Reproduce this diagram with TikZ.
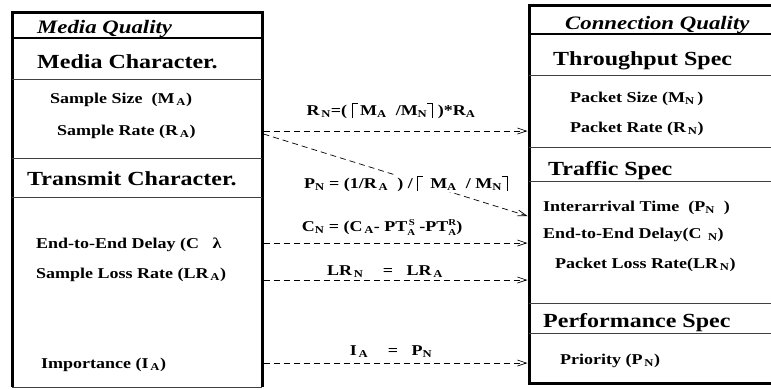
\documentclass[tikz,border=0pt]{standalone}
\usepackage{fontspec}
\setmainfont{Liberation Serif}[FakeStretch=1.2]
\usetikzlibrary{arrows.meta}

\newcommand\sub[1]{\textsubscript{#1}}
\newcommand\subsup[2]{\rlap{\raisebox{-4pt}{\fontsize{9}{9}\selectfont #1}}\raisebox{6pt}{\fontsize{9}{9}\selectfont #2}}
\newcommand\lceilbar{\rule[-3pt]{1pt}{15pt}\rule[11pt]{5pt}{1pt}}
\newcommand\rceilbar{\rule[11pt]{5pt}{1pt}\rule[-3pt]{1pt}{15pt}}

\tikzset{
  every node/.style={inner sep=0pt, anchor=base west},
  title/.style={font=\fontsize{19}{22}\selectfont\bfseries\itshape},
  head/.style={font=\fontsize{20}{24}\selectfont\bfseries},
  item/.style={font=\fontsize{15}{18}\selectfont\bfseries},
  formula/.style={font=\fontsize{15}{18}\selectfont\bfseries, anchor=base, fill=white, inner sep=1pt},
  link/.style={dash pattern=on 6pt off 4pt, line width=0.7pt, -{Straight Barb[length=9pt,width=6pt]}},
  frame/.style={line width=3pt},
  rule/.style={line width=0.8pt, black!75},
}

\begin{document}
\begin{tikzpicture}[x=1pt,y=-1pt]
\useasboundingbox (0,0) rectangle (771,389);

% media quality box
\draw[rule] (12,387) -- (262,387);
\draw[frame] (12,387) -- (12,12) -- (262,12) -- (262,387);
\draw[line width=2.5pt] (12,38) -- (262,38);
\draw[rule] (12,79) -- (262,79);
\draw[rule] (12,158) -- (262,158);
\draw[rule] (12,197) -- (262,197);

\node[title] (mq) at (37,33) {Media Quality};
\node[head] (mchar) at (37,68) {Media Character.};
\node[item] (msize) at (50,103) {Sample Size \ (M\sub{\,A})};
\node[item] (mrate) at (57,135) {Sample Rate (R\sub{\,A})};
\node[head] (tchar) at (27,185) {Transmit Character.};
\node[item] (mdelay) at (36,248) {End-to-End Delay (C \ \ λ};
\node[item] (mloss) at (36,278) {Sample Loss Rate (LR\sub{\,A})};
\node[item] (mimp) at (41,368) {Importance (I\sub{\,A})};

% connection quality box
\draw[frame] (780,5) -- (529,5) -- (529,383) -- (780,383);
\draw[line width=2pt] (529,34) -- (780,34);
\draw[rule] (529,75) -- (780,75);
\draw[rule] (529,147) -- (780,147);
\draw[rule] (529,181) -- (780,181);
\draw[rule] (529,303) -- (780,303);
\draw[rule] (529,333) -- (780,333);

\node[title] (cq) at (565,29) {Connection Quality};
\node[head] (thru) at (553,65) {Throughput Spec};
\node[item] (psize) at (570,102) {Packet Size (M\sub{N}\,)};
\node[item] (prate) at (570,132) {Packet Rate (R\sub{\,N})};
\node[head] (traf) at (548,175) {Traffic Spec};
\node[item] (pinter) at (543,211) {Interarrival Time \ (P\sub{N} \ )};
\node[item] (pdelay) at (543,238) {End-to-End Delay(C\sub{\ \ N})};
\node[item] (ploss) at (555,268) {Packet Loss Rate(LR\sub{\,N})};
\node[head] (perf) at (543,327) {Performance Spec};
\node[item] (prio) at (560,364) {Priority (P\sub{\,N})};

% mappings
\coordinate (srate) at (263.5,131);
\coordinate (srate2) at (263.5,134);
\coordinate (sdelay) at (263.5,243);
\coordinate (sloss) at (263.5,280);
\coordinate (simp) at (263.5,363);
\coordinate (trate) at (527.5,131);
\coordinate (tinter) at (527.5,216);
\coordinate (tdelay) at (527.5,243);
\coordinate (tloss) at (527.5,280);
\coordinate (tprio) at (527.5,363);

\draw[link] (srate) -- (trate);
\draw[link] (srate2) -- (tinter);
\draw[link] (sdelay) -- (tdelay);
\draw[link] (sloss) -- (tloss);
\draw[link] (simp) -- (tprio);

\node[formula] (frate) at (391,115) {R\sub{\,N}=( \lceilbar\,M\sub{A} \ /M\sub{N}\rceilbar \ )*R\sub{A}};
\node[formula] (finter) at (406,188) {P\sub{N} = (1/R\sub{\,A} \ ) / \lceilbar\, M\sub{A} \ / M\sub{N}\rceilbar};
\node[formula] (fdelay) at (382,231) {C\sub{N} = (C\sub{\,A}- PT\subsup{A}{\,S} -PT\subsup{A}{R})};
\node[formula] (floss) at (385,275) {LR\sub{\,N} \quad = \ \ LR\sub{\,A}};
\node[formula] (fimp) at (391,355) {I\sub{\,A} \quad = \ \ P\sub{N}};
\end{tikzpicture}
\end{document}
